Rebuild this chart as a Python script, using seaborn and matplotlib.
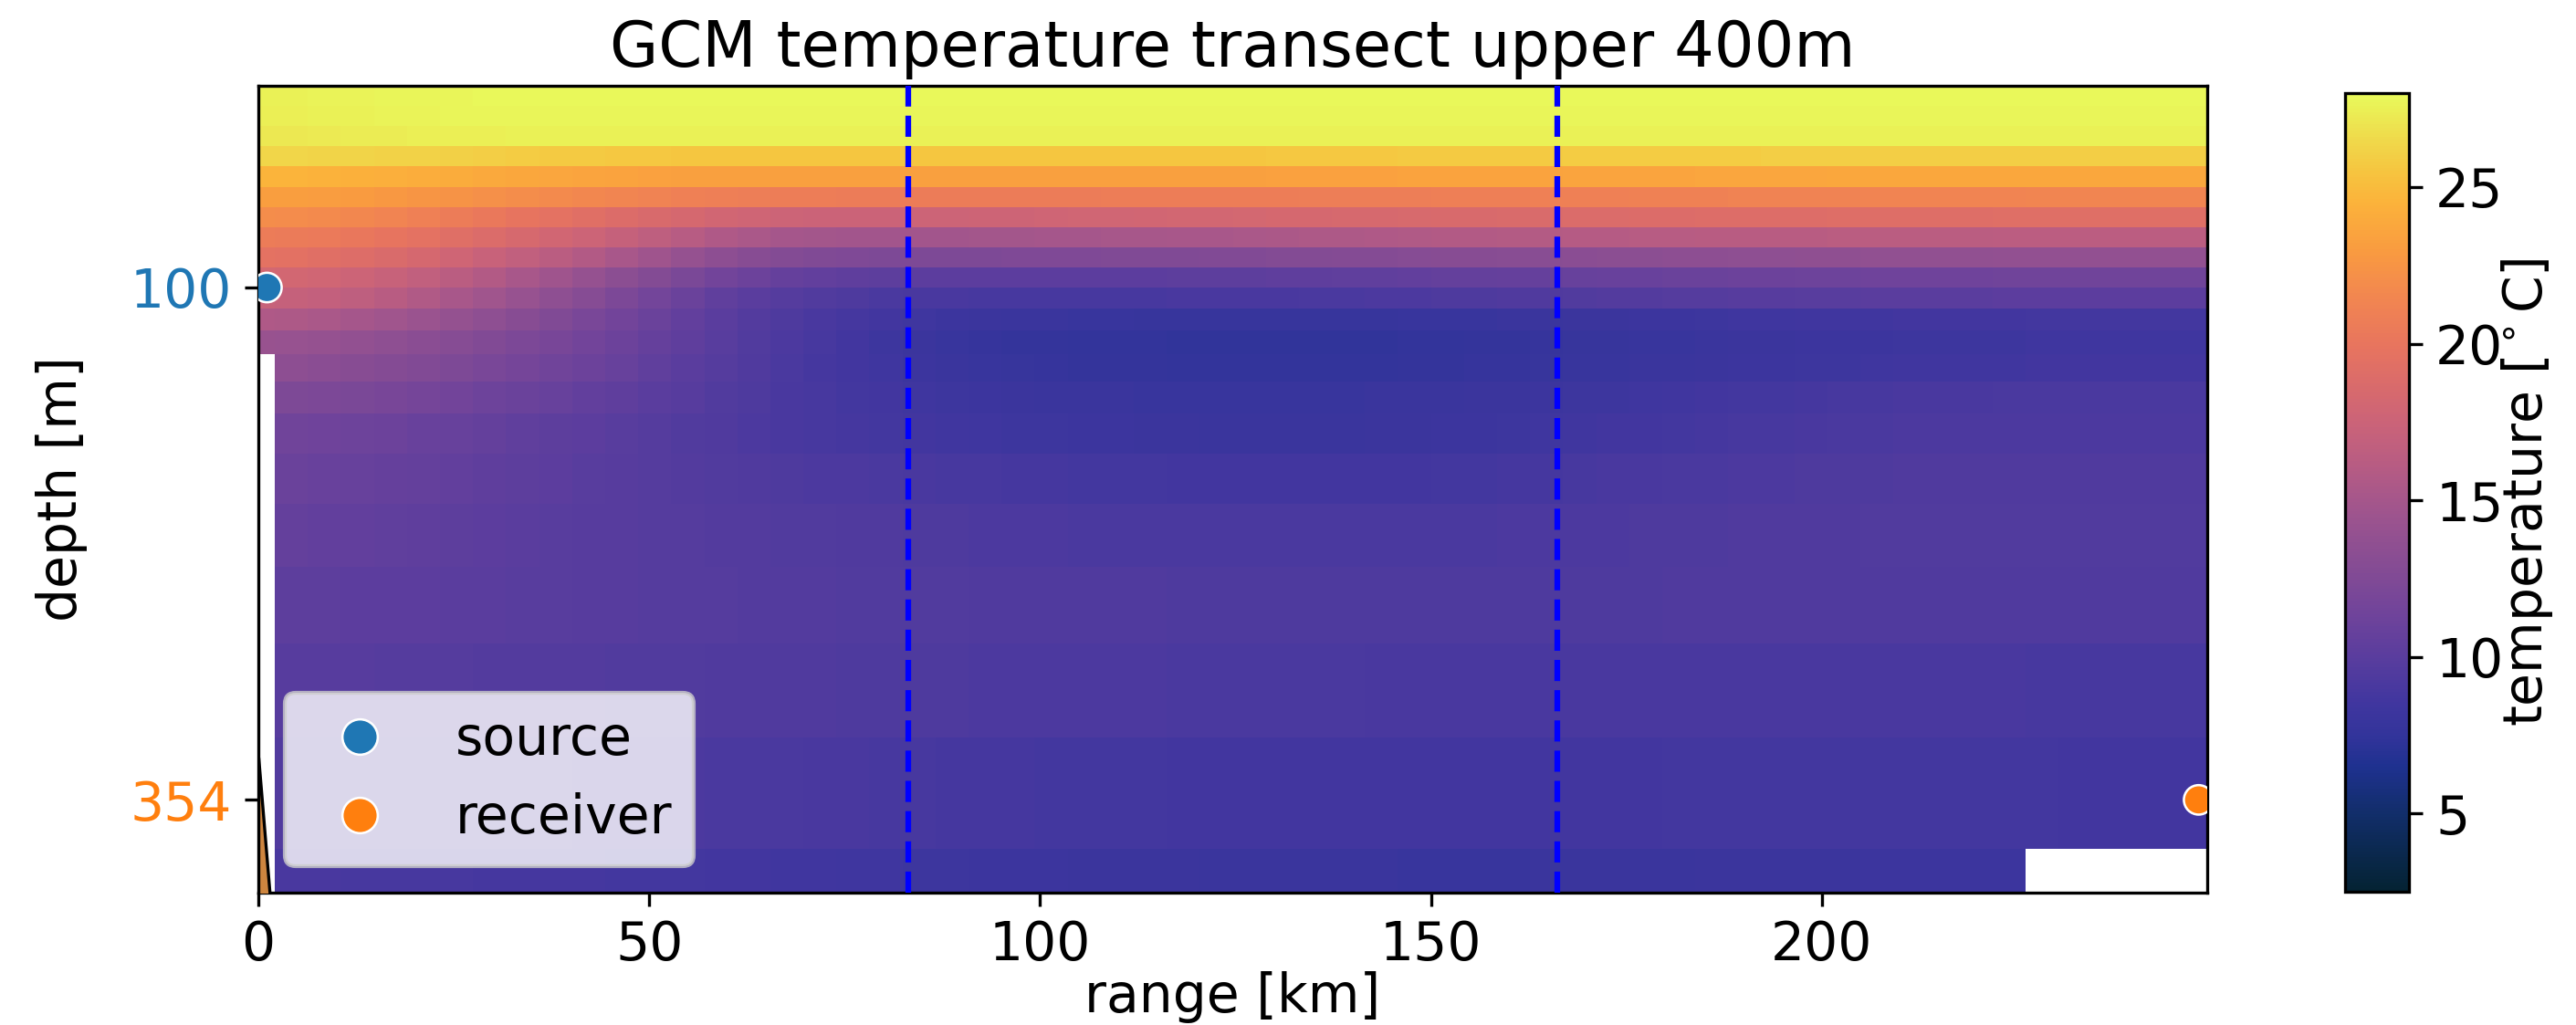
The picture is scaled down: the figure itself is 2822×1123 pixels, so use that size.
import numpy as np
import pandas as pd
import matplotlib
matplotlib.use("Agg")
import matplotlib.pyplot as plt
from matplotlib.colors import LinearSegmentedColormap
import seaborn as sns

nan = np.nan

# Horizontal grid along the transect (km) and model layer edges (m)
range_km = np.linspace(0.0, 249.3, 60)
depth_edges = [0, 10, 20, 30, 40, 50, 60, 70, 80.01, 90.04, 100.15, 110.47,
               121.27, 133.03, 146.45, 162.49, 182.31, 207.16, 238.26,
               276.68, 323.18, 378.18, 441.68]

# Temperature (deg C), one list per model layer, 60 range columns each
temp_rows = [
    [27.6,27.6,27.7,27.7,27.8,27.8,27.8,27.9,27.9,27.9, 27.9,27.9,27.9,27.9,27.9,27.9,27.9,27.9,27.9,27.9,
     27.9,27.9,27.9,27.9,27.9,27.9,27.9,27.9,27.9,27.9, 27.9,27.9,27.9,27.9,27.9,27.9,27.9,27.9,27.9,27.9,
     27.9,27.9,27.9,27.9,27.9,27.9,27.9,27.9,27.9,27.9, 27.9,27.9,27.9,27.9,27.9,27.9,27.9,27.9,27.9,27.9],
    [27.5,27.5,27.6,27.6,27.7,27.7,27.8,27.8,27.8,27.8, 27.8,27.8,27.8,27.8,27.8,27.8,27.8,27.8,27.8,27.8,
     27.8,27.8,27.8,27.8,27.8,27.8,27.8,27.8,27.8,27.8, 27.8,27.8,27.8,27.8,27.8,27.8,27.8,27.8,27.8,27.8,
     27.8,27.8,27.8,27.8,27.8,27.8,27.8,27.8,27.8,27.8, 27.8,27.8,27.8,27.8,27.8,27.8,27.8,27.8,27.8,27.8],
    [27.2,27.2,27.3,27.4,27.4,27.5,27.5,27.5,27.6,27.6, 27.6,27.6,27.6,27.6,27.6,27.6,27.6,27.6,27.6,27.6,
     27.6,27.6,27.6,27.6,27.6,27.6,27.6,27.6,27.6,27.6, 27.6,27.6,27.6,27.6,27.6,27.6,27.6,27.6,27.6,27.6,
     27.6,27.6,27.6,27.6,27.6,27.6,27.6,27.6,27.6,27.6, 27.6,27.6,27.6,27.6,27.6,27.6,27.6,27.6,27.6,27.6],
    [26.4,26.4,26.3,26.3,26.2,26.2,26.1,26.0,25.9,25.8, 25.8,25.7,25.7,25.6,25.6,25.6,25.6,25.6,25.6,25.6,
     25.6,25.6,25.6,25.6,25.6,25.6,25.6,25.6,25.6,25.6, 25.6,25.7,25.7,25.7,25.7,25.8,25.8,25.8,25.8,25.8,
     25.9,25.9,25.9,25.9,25.9,25.9,26.0,26.0,26.0,26.0, 26.0,26.0,26.0,26.0,26.0,26.0,26.0,26.0,26.0,26.0],
    [24.6,24.6,24.5,24.4,24.3,24.2,24.1,23.9,23.8,23.7, 23.6,23.5,23.4,23.3,23.3,23.3,23.3,23.3,23.3,23.3,
     23.3,23.3,23.3,23.3,23.3,23.3,23.3,23.3,23.3,23.3, 23.3,23.4,23.4,23.4,23.4,23.5,23.5,23.5,23.5,23.5,
     23.6,23.6,23.6,23.6,23.7,23.7,23.7,23.7,23.8,23.8, 23.8,23.8,23.8,23.8,23.8,23.8,23.8,23.8,23.8,23.8],
    [23.2,23.2,23.1,23.0,22.8,22.6,22.4,22.2,22.0,21.8, 21.6,21.4,21.2,21.0,20.9,20.8,20.7,20.7,20.6,20.6,
     20.6,20.6,20.6,20.6,20.6,20.6,20.7,20.7,20.7,20.7, 20.7,20.7,20.8,20.8,20.8,20.8,20.9,20.9,20.9,21.0,
     21.0,21.0,21.1,21.1,21.1,21.2,21.2,21.2,21.2,21.3, 21.3,21.3,21.3,21.3,21.4,21.4,21.4,21.4,21.4,21.4],
    [22.0,21.9,21.8,21.6,21.3,21.0,20.6,20.3,19.9,19.6, 19.3,18.9,18.6,18.3,18.0,17.8,17.6,17.5,17.5,17.5,
     17.6,17.6,17.7,17.7,17.8,17.9,17.9,18.0,18.1,18.1, 18.2,18.3,18.3,18.4,18.4,18.5,18.6,18.6,18.7,18.7,
     18.8,18.8,18.9,18.9,19.0,19.0,19.0,19.0,19.1,19.1, 19.1,19.1,19.1,19.2,19.2,19.2,19.2,19.2,19.2,19.2],
    [20.6,20.5,20.4,20.2,19.9,19.6,19.2,18.8,18.4,18.0, 17.6,17.1,16.6,16.1,15.6,15.3,15.0,14.9,14.8,14.8,
     14.8,14.8,14.9,14.9,15.0,15.0,15.1,15.1,15.2,15.2, 15.3,15.4,15.5,15.5,15.6,15.7,15.8,15.8,15.9,15.9,
     16.0,16.0,16.1,16.1,16.2,16.2,16.2,16.2,16.3,16.3, 16.3,16.3,16.3,16.4,16.4,16.4,16.4,16.4,16.4,16.4],
    [19.6,19.5,19.3,19.0,18.7,18.3,17.8,17.3,16.8,16.3, 15.8,15.2,14.6,14.0,13.4,13.0,12.7,12.5,12.4,12.3,
     12.3,12.3,12.3,12.4,12.4,12.4,12.5,12.5,12.5,12.6, 12.6,12.7,12.7,12.8,12.8,12.9,13.0,13.0,13.1,13.1,
     13.2,13.3,13.3,13.4,13.4,13.5,13.5,13.6,13.6,13.7, 13.7,13.7,13.7,13.8,13.8,13.8,13.8,13.8,13.8,13.8],
    [18.2,18.1,17.9,17.6,17.2,16.8,16.3,15.8,15.2,14.6, 14.0,13.3,12.7,12.1,11.5,11.1,10.7,10.5,10.3,10.2,
     10.1,10.1,10.1,10.1,10.1,10.1,10.1,10.1,10.2,10.2, 10.2,10.3,10.3,10.4,10.4,10.5,10.6,10.6,10.7,10.7,
     10.8,10.9,10.9,11.0,11.0,11.1,11.1,11.2,11.2,11.3, 11.3,11.3,11.3,11.4,11.4,11.4,11.4,11.4,11.4,11.4],
    [17.2,17.1,16.9,16.6,16.2,15.7,15.2,14.7,14.1,13.5, 12.9,12.2,11.6,11.0,10.4,10.0,9.7,9.5,9.3,9.1,
     9.0,9.0,8.9,8.9,8.9,8.9,8.9,8.9,9.0,9.0, 9.0,9.0,9.1,9.1,9.2,9.2,9.3,9.3,9.4,9.4,
     9.5,9.6,9.6,9.7,9.7,9.8,9.8,9.9,9.9,10.0, 10.0,10.0,10.0,10.1,10.1,10.1,10.1,10.1,10.1,10.1],
    [15.6,15.5,15.3,15.0,14.7,14.3,13.9,13.5,13.0,12.5, 12.0,11.5,11.0,10.5,10.0,9.6,9.3,9.0,8.8,8.6,
     8.4,8.2,8.1,8.0,8.0,7.9,7.9,7.8,7.8,7.8, 7.8,7.8,7.8,7.8,7.8,7.9,7.9,7.9,8.0,8.0,
     8.1,8.1,8.2,8.2,8.3,8.4,8.4,8.5,8.5,8.5, 8.6,8.6,8.6,8.6,8.7,8.7,8.7,8.7,8.7,8.7],
    [14.2,14.1,14.0,13.8,13.5,13.2,12.9,12.6,12.2,11.9, 11.5,11.1,10.7,10.3,9.9,9.5,9.2,8.9,8.6,8.3,
     8.1,7.9,7.7,7.6,7.6,7.5,7.5,7.5,7.4,7.4, 7.4,7.4,7.4,7.4,7.4,7.5,7.5,7.6,7.6,7.7,
     7.8,7.8,7.9,7.9,8.0,8.1,8.1,8.2,8.2,8.2, 8.3,8.3,8.3,8.3,8.4,8.4,8.4,8.4,8.4,8.4],
    [nan,13.4,13.2,13.0,12.8,12.6,12.3,12.0,11.7,11.4, 11.1,10.8,10.4,10.0,9.7,9.4,9.1,8.8,8.6,8.4,
     8.2,8.0,7.9,7.8,7.7,7.6,7.6,7.6,7.5,7.5, 7.5,7.5,7.5,7.5,7.5,7.6,7.6,7.7,7.7,7.8,
     7.9,7.9,8.0,8.0,8.1,8.2,8.2,8.3,8.3,8.4, 8.5,8.5,8.5,8.5,8.6,8.6,8.6,8.6,8.6,8.6],
    [nan,12.3,12.2,12.1,11.9,11.7,11.5,11.2,11.0,10.8, 10.5,10.3,10.0,9.8,9.5,9.3,9.0,8.9,8.7,8.6,
     8.4,8.3,8.2,8.1,8.0,8.0,8.0,7.9,7.9,7.9, 7.9,7.9,7.9,7.9,8.0,8.0,8.0,8.1,8.1,8.2,
     8.3,8.3,8.4,8.5,8.6,8.7,8.7,8.8,8.9,8.9, 9.0,9.0,9.0,9.1,9.1,9.1,9.1,9.1,9.1,9.1],
    [nan,11.4,11.3,11.2,11.1,10.9,10.8,10.6,10.4,10.2, 10.1,9.9,9.7,9.5,9.4,9.2,9.0,8.9,8.8,8.7,
     8.6,8.5,8.4,8.3,8.3,8.2,8.2,8.1,8.1,8.0, 8.0,8.0,8.0,8.0,8.1,8.1,8.2,8.2,8.3,8.4,
     8.5,8.6,8.6,8.7,8.8,8.9,8.9,9.0,9.1,9.1, 9.2,9.2,9.2,9.2,9.2,9.2,9.2,9.2,9.2,9.2],
    [nan,11.0,10.9,10.8,10.7,10.6,10.5,10.3,10.2,10.1, 9.9,9.8,9.7,9.6,9.5,9.4,9.3,9.2,9.2,9.1,
     9.0,8.9,8.9,8.8,8.8,8.7,8.7,8.7,8.6,8.6, 8.6,8.6,8.6,8.6,8.6,8.6,8.7,8.7,8.8,8.8,
     8.9,9.0,9.0,9.1,9.1,9.2,9.2,9.3,9.3,9.3, 9.4,9.4,9.4,9.4,9.4,9.4,9.4,9.4,9.4,9.4],
    [nan,10.6,10.5,10.5,10.4,10.3,10.2,10.1,10.0,9.9, 9.8,9.8,9.7,9.7,9.6,9.6,9.5,9.5,9.4,9.4,
     9.3,9.3,9.2,9.2,9.2,9.1,9.1,9.1,9.1,9.1, 9.1,9.1,9.1,9.1,9.1,9.1,9.1,9.1,9.2,9.2,
     9.2,9.2,9.3,9.3,9.3,9.4,9.4,9.4,9.4,9.5, 9.5,9.5,9.5,9.5,9.5,9.5,9.5,9.5,9.5,9.5],
    [nan,10.2,10.2,10.1,10.1,10.1,10.0,10.0,9.9,9.9, 9.8,9.8,9.7,9.7,9.7,9.6,9.6,9.6,9.5,9.5,
     9.5,9.5,9.4,9.4,9.4,9.4,9.4,9.4,9.3,9.3, 9.3,9.3,9.3,9.3,9.3,9.3,9.3,9.3,9.3,9.3,
     9.3,9.3,9.3,9.4,9.4,9.4,9.4,9.4,9.4,9.4, 9.4,9.4,9.4,9.4,9.4,9.4,9.4,9.4,9.4,9.4],
    [nan,9.8,9.8,9.8,9.7,9.7,9.7,9.6,9.6,9.6, 9.6,9.5,9.5,9.5,9.4,9.4,9.4,9.4,9.3,9.3,
     9.3,9.3,9.2,9.2,9.2,9.2,9.2,9.2,9.1,9.1, 9.1,9.1,9.1,9.1,9.0,9.0,9.0,9.0,9.0,9.0,
     9.0,9.0,9.0,9.0,9.0,9.0,9.0,9.0,9.0,9.0, 9.0,9.0,9.0,9.0,8.9,8.9,8.9,8.9,8.9,8.9],
    [nan,9.5,9.5,9.4,9.4,9.4,9.4,9.3,9.3,9.3, 9.2,9.2,9.2,9.2,9.1,9.1,9.1,9.0,9.0,8.9,
     8.9,8.8,8.8,8.8,8.7,8.7,8.7,8.7,8.6,8.6, 8.6,8.6,8.6,8.6,8.6,8.6,8.6,8.6,8.6,8.6,
     8.6,8.6,8.6,8.7,8.7,8.7,8.7,8.7,8.7,8.7, 8.7,8.7,8.7,8.7,8.7,8.6,8.6,8.6,8.6,8.6],
    [nan,9.0,9.0,8.9,8.9,8.9,8.9,8.8,8.8,8.8, 8.8,8.7,8.7,8.7,8.6,8.6,8.5,8.5,8.4,8.4,
     8.3,8.3,8.2,8.2,8.2,8.1,8.1,8.1,8.1,8.0, 8.0,8.0,8.0,8.0,8.0,7.9,7.9,7.9,7.9,8.0,
     8.0,8.0,8.0,8.0,8.1,8.1,8.1,8.1,8.1,8.2, 8.2,8.2,8.2,8.2,nan,nan,nan,nan,nan,nan],
]

# Source / receiver positions
roles = ["source", "receiver"]
role_range_km = [1.1, 248.2]
role_depth_m = [100, 354]
role_colors = ["#1f77b4", "#ff7f0e"]

# Segment boundaries along the transect (km)
segment_bounds_km = [83.1, 166.2]

# Seafloor near the source end (km, m)
bathy_range_km = [0.0, 4.2254]
bathy_depth_m = [333.0, 530.0]

temp_vmin, temp_vmax = 2.5, 28.0

# thermal-like colour ramp, anchored in temperature units
thermal_T = [2.5, 5.0, 6.5, 7.5, 8.5, 10.0, 11.5, 12.5, 14.0, 15.0, 16.5, 17.5,
             19.0, 20.0, 21.5, 23.0, 24.5, 25.5, 26.5, 28.0]
thermal_hex = ["#042333", "#122e6b", "#1f3190", "#33349b", "#40369f", "#5a3d9e",
               "#72449a", "#804a95", "#955190", "#a5568b", "#bd5e80", "#cb6378",
               "#dd6d68", "#e8755e", "#f28650", "#f99b40", "#fbb23b", "#f6c43f",
               "#f0d84a", "#e8fa5b"]
thermal = LinearSegmentedColormap.from_list(
    "thermal_like",
    [((t - temp_vmin) / (temp_vmax - temp_vmin), c) for t, c in zip(thermal_T, thermal_hex)])

sns.set_theme(style="ticks", rc={
    "axes.edgecolor": "black", "text.color": "black", "axes.labelcolor": "black",
    "xtick.color": "black", "ytick.color": "black",
    "xtick.major.size": 3.5, "ytick.major.size": 3.5,
    "xtick.major.width": 0.8, "ytick.major.width": 0.8,
    "xtick.major.pad": 3.5, "ytick.major.pad": 3.5,
    "axes.linewidth": 0.8,
})
plt.rcParams["font.family"] = ["DejaVu Sans"]
plt.rcParams["font.size"] = 14

fig = plt.figure(figsize=(2822 / 300, 1123 / 300), dpi=300)
ax = fig.add_axes([283 / 2822, 1 - 978 / 1123, (2418 - 283) / 2822, (978 - 94) / 1123])
cax = fig.add_axes([2569 / 2822, 1 - 977 / 1123, 70 / 2822, (977 - 102) / 1123])

rk = np.asarray(range_km)
half = np.diff(rk) / 2
range_edges = np.concatenate([[rk[0] - half[0]], rk[:-1] + half, [rk[-1] + half[-1]]])
temp = np.ma.masked_invalid(np.array(temp_rows))

mesh = ax.pcolormesh(range_edges, depth_edges, temp, cmap=thermal,
                     vmin=temp_vmin, vmax=temp_vmax, shading="flat")

ax.fill_between(bathy_range_km, bathy_depth_m, 600, facecolor="peru",
                edgecolor="black", linewidth=0.8, zorder=3)

for xb in segment_bounds_km:
    ax.axvline(xb, color="blue", linestyle="--", linewidth=1.5, zorder=4)

pts = pd.DataFrame({"range": role_range_km, "depth": role_depth_m, "role": roles})
sns.scatterplot(data=pts, x="range", y="depth", hue="role",
                palette=dict(zip(roles, role_colors)), s=60, ax=ax, zorder=5)
sns.move_legend(ax, "lower left", title=None, fontsize=14, markerscale=1.2)

ax.set_xlim(0, 249.3)
ax.set_ylim(400, 0)
ax.set_xticks([0, 50, 100, 150, 200])
ax.set_yticks(role_depth_m)
ax.set_yticklabels([str(d) for d in role_depth_m])
for lbl, c in zip(ax.get_yticklabels(), role_colors):
    lbl.set_color(c)
ax.tick_params(labelsize=14)
ax.set_xlabel("range [km]", fontsize=14, labelpad=0)
ax.set_ylabel("depth [m]", fontsize=14, labelpad=11)
ax.set_title("GCM temperature transect upper 400m", fontsize=16.5, pad=5)
for sp in ax.spines.values():
    sp.set_visible(True)
    sp.set_linewidth(0.8)

cb = fig.colorbar(mesh, cax=cax)
cb.set_ticks([5, 10, 15, 20, 25])
cb.ax.tick_params(labelsize=14)
cb.outline.set_linewidth(0.8)
cb.set_label(r"temperature [$^\circ$C]", fontsize=14, labelpad=-1)

fig.savefig("out.png", dpi=300)
